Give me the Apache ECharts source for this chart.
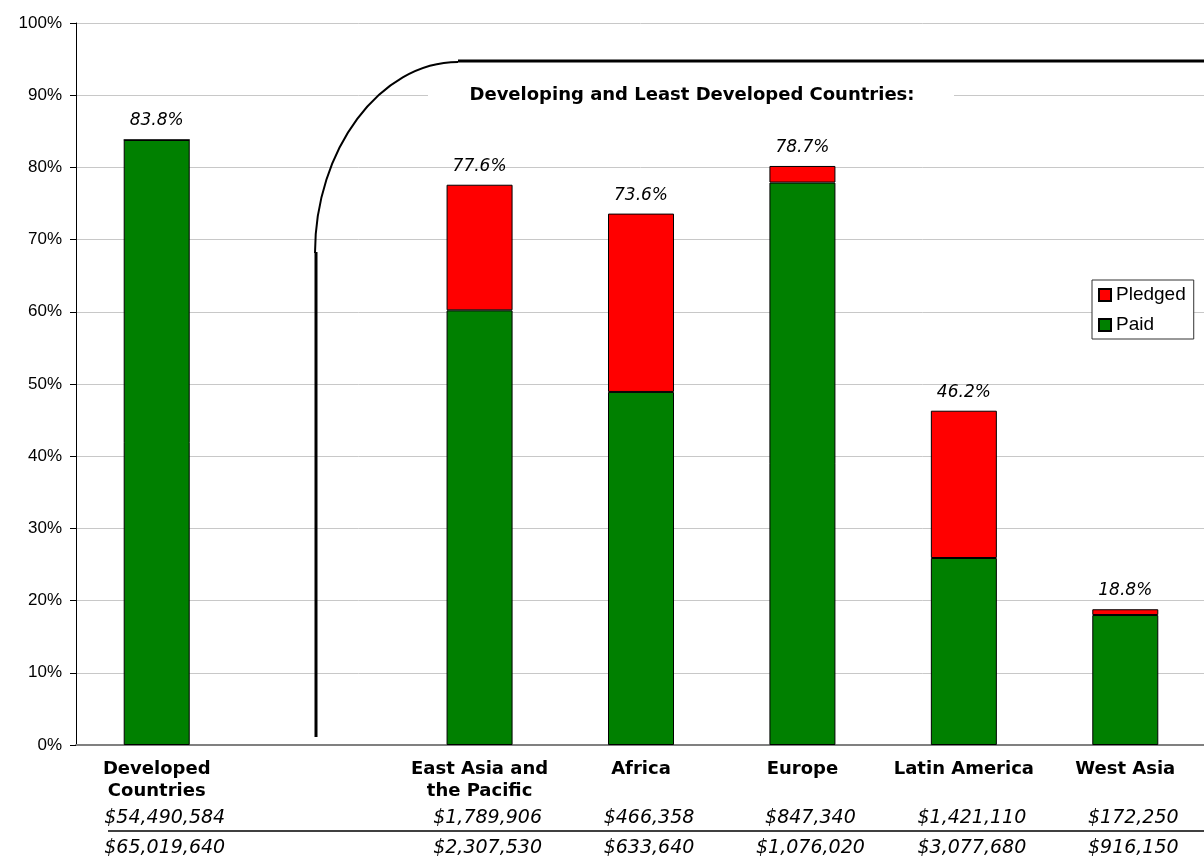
<!DOCTYPE html>
<html>
<head>
<meta charset="utf-8">
<script src="https://cdn.jsdelivr.net/npm/echarts@6/dist/echarts.min.js"></script>
<style>html,body{margin:0;padding:0;background:#fff}#c{width:1204px;height:857px}</style>
</head>
<body>
<div id="c"></div>
<script>
var categories = ['Developed\nCountries', '', 'East Asia and\nthe Pacific', 'Africa', 'Europe', 'Latin America', 'West Asia'];
var paid = [83.8, null, 60.2, 48.9, 77.9, 25.9, 18.0];
var pledged = [0, null, 17.4, 24.7, 2.3, 20.4, 0.8];
var pctLabels = ['83.8%', '', '77.6%', '73.6%', '78.7%', '46.2%', '18.8%'];
var paidAmounts = ['$54,490,584', '', '$1,789,906', '$466,358', '$847,340', '$1,421,110', '$172,250'];
var totalAmounts = ['$65,019,640', '', '$2,307,530', '$633,640', '$1,076,020', '$3,077,680', '$916,150'];
var yTicks = [0, 10, 20, 30, 40, 50, 60, 70, 80, 90, 100];
var groupTitle = 'Developing and Least Developed Countries:';

var chart = echarts.init(document.getElementById('c'), null, {renderer: 'canvas'});

function amountAxis(data, margin) {
  return {
    type: 'category', data: data, position: 'bottom', gridIndex: 0,
    boundaryGap: true,
    axisLine: {show: false}, axisTick: {show: false}, splitLine: {show: false},
    axisLabel: {
      interval: 0, margin: margin, color: '#000',
      fontFamily: 'DejaVu Sans', fontStyle: 'italic', fontSize: 19,
      padding: [0, 0, 0, 16]
    }
  };
}

var option = {
  animation: false,
  backgroundColor: '#fff',
  grid: {left: 76, right: -2, top: 23, bottom: 112, containLabel: false, outerBoundsMode: 'none'},
  legend: {
    data: ['Pledged', 'Paid'],
    orient: 'vertical',
    left: 1092, top: 280,
    padding: [5, 8, 4, 6],
    itemWidth: 12, itemHeight: 12, itemGap: 10,
    backgroundColor: '#fff',
    borderColor: '#333', borderWidth: 1,
    icon: 'rect',
    textStyle: {fontFamily: 'Liberation Sans', fontSize: 19, color: '#000', lineHeight: 20}
  },
  xAxis: [
    {
      type: 'category', data: categories, gridIndex: 0, position: 'bottom',
      axisLine: {show: true, onZero: false, lineStyle: {color: '#808080', width: 2}},
      axisTick: {show: false},
      axisLabel: {
        interval: 0, margin: 13, color: '#000',
        fontFamily: 'DejaVu Sans', fontWeight: 'bold', fontSize: 18, lineHeight: 22
      }
    },
    amountAxis(paidAmounts, 64),
    amountAxis(totalAmounts, 94)
  ],
  yAxis: {
    type: 'value', min: 0, max: 100, interval: 10,
    axisLine: {show: true, lineStyle: {color: '#000', width: 1}},
    axisTick: {show: true, length: 6, lineStyle: {color: '#000'}},
    splitLine: {show: true, lineStyle: {color: '#c8c8c8', width: 1}},
    axisLabel: {
      margin: 14, color: '#000', fontFamily: 'Liberation Sans', fontSize: 17,
      formatter: function (v) { return yTicks.indexOf(v) >= 0 ? v + '%' : ''; }
    }
  },
  series: [
    {
      name: 'Paid', type: 'bar', stack: 'total', data: paid, barWidth: 66,
      itemStyle: {color: '#008000', borderColor: '#000', borderWidth: 1}
    },
    {
      name: 'Pledged', type: 'bar', stack: 'total', data: pledged, barWidth: 66,
      itemStyle: {color: '#ff0000', borderColor: '#000', borderWidth: 1},
      label: {
        show: true, position: 'top', distance: 10,
        fontFamily: 'DejaVu Sans', fontStyle: 'italic', fontSize: 17, color: '#000',
        formatter: function (p) { return pctLabels[p.dataIndex]; }
      }
    }
  ],
  graphic: [
    {type: 'line', shape: {x1: 316, y1: 737, x2: 316, y2: 252}, style: {stroke: '#000', lineWidth: 3}, z: 100},
    {type: 'bezierCurve', shape: {x1: 315, y1: 253, cpx1: 315, cpy1: 150, cpx2: 380, cpy2: 62, x2: 458, y2: 62}, style: {stroke: '#000', lineWidth: 2, fill: null}, z: 100},
    {type: 'line', shape: {x1: 458, y1: 61, x2: 1204, y2: 61}, style: {stroke: '#000', lineWidth: 3}, z: 100},
    {type: 'rect', shape: {x: 428, y: 84, width: 526, height: 22}, style: {fill: '#fff'}, z: 100},
    {type: 'text', x: 692, y: 95, style: {text: groupTitle, fill: '#000', fontFamily: 'DejaVu Sans', fontWeight: 'bold', fontSize: 18, align: 'center', verticalAlign: 'middle'}, z: 101},
    {type: 'line', shape: {x1: 108, y1: 831, x2: 1204, y2: 831}, style: {stroke: '#000', lineWidth: 1.5}, z: 100}
  ]
};
chart.setOption(option);
</script>
</body>
</html>
